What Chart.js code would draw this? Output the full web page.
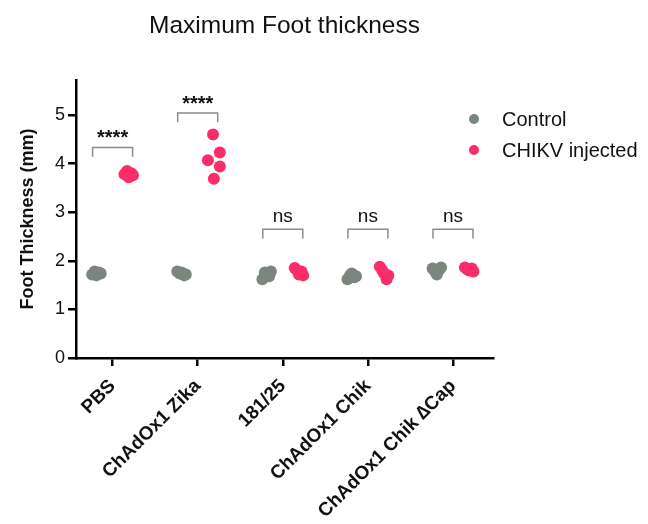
<!DOCTYPE html>
<html>
<head>
<meta charset="utf-8">
<script src="https://cdn.jsdelivr.net/npm/chart.js@4.4.0/dist/chart.umd.min.js"></script>
<style>
  html, body { margin: 0; padding: 0; background: #fff; }
</style>
</head>
<body>
<canvas id="chart" width="648" height="524"></canvas>
<script>
const groups = ['PBS', 'ChAdOx1 Zika', '181/25', 'ChAdOx1 Chik', 'ChAdOx1 Chik \u2206Cap'];

// foot thickness (mm), one row per group
const controlValues = [
    [1.72, 1.78, 1.70, 1.76, 1.74],
    [1.78, 1.74, 1.76, 1.70, 1.72],
    [1.62, 1.76, 1.72, 1.68, 1.78],
    [1.62, 1.70, 1.74, 1.66, 1.68],
    [1.84, 1.78, 1.72, 1.82, 1.86],
];
const chikvValues = [
    [3.78, 3.85, 3.72, 3.80, 3.76],
    [4.60, 4.23, 4.07, 3.94, 3.69],
    [1.85, 1.80, 1.72, 1.78, 1.70],
    [1.88, 1.80, 1.74, 1.62, 1.70],
    [1.86, 1.82, 1.80, 1.84, 1.78],
];

const sigLabels = ['****', '****', 'ns', 'ns', 'ns'];
const bracketHeights = [4.33, 5.04, 2.65, 2.65, 2.65];
const yTicks = [0, 1, 2, 3, 4, 5];

const controlColor = '#7a867d';
const chikvColor = '#fb2d68';

// horizontal spread of the dots inside a column (x units)
const clusterJitter = [-0.05, -0.02, 0.0, 0.03, 0.05];
const zikaJitter = [-0.01, 0.07, -0.07, 0.07, 0.0];
const sideOffset = 0.19;

function buildPoints(values, side) {
    const pts = [];
    values.forEach((row, g) => {
        row.forEach((v, i) => {
            const jit = (side > 0 && g === 1) ? zikaJitter[i] : clusterJitter[i];
            pts.push({ x: g + side * sideOffset + jit, y: v });
        });
    });
    return pts;
}

const FONT = "'Liberation Sans', Arial, sans-serif";

const annotations = {
    id: 'annotations',
    afterDatasetsDraw(chart) {
        const { ctx, scales: { x, y }, chartArea } = chart;
        ctx.save();
        // brackets + significance
        bracketHeights.forEach((h, g) => {
            const x0 = x.getPixelForValue(g - 0.235);
            const x1 = x.getPixelForValue(g + 0.235);
            const yt = y.getPixelForValue(h);
            const yb = y.getPixelForValue(h - 0.19);
            ctx.strokeStyle = '#8c8c8c';
            ctx.lineWidth = 1.5;
            ctx.beginPath();
            ctx.moveTo(x0, yb);
            ctx.lineTo(x0, yt);
            ctx.lineTo(x1, yt);
            ctx.lineTo(x1, yb);
            ctx.stroke();

            const label = sigLabels[g];
            ctx.fillStyle = '#111';
            ctx.textAlign = 'center';
            ctx.textBaseline = 'middle';
            const cx = x.getPixelForValue(g);
            if (label === 'ns') {
                ctx.font = '19px ' + FONT;
                ctx.fillText(label, cx, yt - 12);
            } else {
                ctx.font = 'bold 20px ' + FONT;
                ctx.fillText(label, cx, yt - 9);
            }
        });

        // title centred over the plot
        ctx.fillStyle = '#111';
        ctx.font = '24.5px ' + FONT;
        ctx.textAlign = 'center';
        ctx.textBaseline = 'middle';
        ctx.fillText('Maximum Foot thickness', (chartArea.left + chartArea.right) / 2, 26);

        // legend
        const items = [['Control', controlColor], ['CHIKV injected', chikvColor]];
        items.forEach(([name, col], i) => {
            const ly = 119 + i * 31;
            ctx.fillStyle = col;
            ctx.beginPath();
            ctx.arc(474, ly, 5, 0, Math.PI * 2);
            ctx.fill();
            ctx.fillStyle = '#111';
            ctx.font = '20px ' + FONT;
            ctx.textAlign = 'left';
            ctx.fillText(name, 502, ly + 1);
        });
        ctx.restore();
    }
};

new Chart(document.getElementById('chart'), {
    type: 'scatter',
    data: {
        datasets: [
            {
                label: 'Control',
                data: buildPoints(controlValues, -1),
                backgroundColor: controlColor,
                borderWidth: 0,
                pointRadius: 6,
                pointHoverRadius: 6,
            },
            {
                label: 'CHIKV injected',
                data: buildPoints(chikvValues, 1),
                backgroundColor: chikvColor,
                borderWidth: 0,
                pointRadius: 6,
                pointHoverRadius: 6,
            },
        ],
    },
    options: {
        responsive: false,
        animation: false,
        events: [],
        layout: { padding: { top: 80, right: 155, left: 0, bottom: 0 } },
        plugins: {
            legend: { display: false },
            tooltip: { enabled: false },
        },
        scales: {
            x: {
                type: 'linear',
                min: -0.43,
                max: 4.47,
                afterBuildTicks: (scale) => {
                    scale.ticks = groups.map((_, i) => ({ value: i }));
                },
                afterFit: (scale) => { scale.height = 166; },
                ticks: {
                    callback: (v) => groups[v],
                    minRotation: 45,
                    maxRotation: 45,
                    autoSkip: false,
                    color: '#111',
                    padding: 9,
                    font: { family: FONT, size: 19, weight: 'bold' },
                },
                grid: {
                    drawOnChartArea: false,
                    drawTicks: true,
                    tickLength: 8,
                    color: '#000',
                    lineWidth: 2.5,
                },
                border: { display: true, color: '#000', width: 2.5 },
            },
            y: {
                min: 0,
                max: 5.72,
                afterBuildTicks: (scale) => {
                    scale.ticks = yTicks.map(v => ({ value: v }));
                },
                afterFit: (scale) => { scale.width = 76; },
                ticks: {
                    color: '#111',
                    padding: 3,
                    font: { family: FONT, size: 18 },
                },
                grid: {
                    drawOnChartArea: false,
                    drawTicks: true,
                    tickLength: 8,
                    color: '#000',
                    lineWidth: 2.5,
                },
                border: { display: true, color: '#000', width: 2.5 },
                title: {
                    display: true,
                    text: 'Foot Thickness (mm)',
                    color: '#111',
                    padding: { top: 17, bottom: 0 },
                    font: { family: FONT, size: 18, weight: 'bold' },
                },
            },
        },
    },
    plugins: [annotations],
});
</script>
</body>
</html>
